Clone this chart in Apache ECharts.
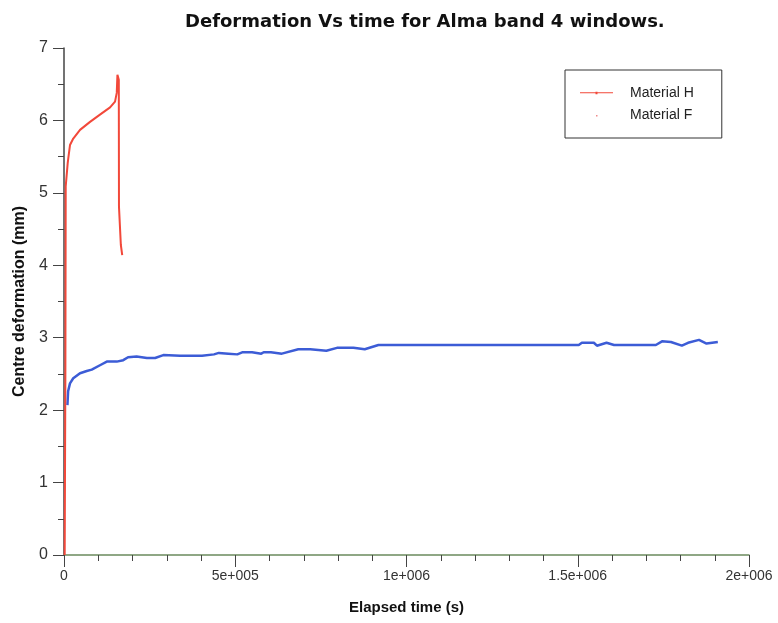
<!DOCTYPE html>
<html>
<head>
<meta charset="utf-8">
<script src="https://cdn.jsdelivr.net/npm/echarts@6/dist/echarts.min.js"></script>
<style>html,body{margin:0;padding:0;background:#fff}#c{width:778px;height:623px}</style>
</head>
<body>
<div id="c"></div>
<script>
// Material H (red) : elapsed time (s), centre deformation (mm)
var hTime = [2000, 4000, 5000, 10800, 12600, 17500, 27000, 46800, 76000, 105000, 134500, 149000, 154000, 156000, 160000, 160500, 164000, 166000, 170000];
var hDef  = [0, 2.5, 5.09, 5.41, 5.48, 5.66, 5.75, 5.87, 5.98, 6.08, 6.18, 6.26, 6.38, 6.63, 6.56, 4.81, 4.79, 4.28, 4.14];

// Blue curve
var fTime = [10000, 12000, 17500, 27000, 46800, 66500, 81000, 105000, 125000, 154000, 173000, 187000, 212000, 242000, 266000, 290000, 339000, 362000, 403000, 438000, 452000, 480000, 506000, 522000, 549000, 576000, 583000, 604000, 636000, 684000, 719000, 766000, 797000, 845000, 878000, 918000, 1503000, 1512000, 1547000, 1556000, 1584000, 1606000, 1728000, 1746000, 1772000, 1804000, 1822000, 1854000, 1876000, 1909000];
var fDef  = [2.07, 2.26, 2.37, 2.44, 2.51, 2.54, 2.56, 2.62, 2.67, 2.67, 2.69, 2.73, 2.74, 2.72, 2.72, 2.76, 2.75, 2.75, 2.75, 2.77, 2.79, 2.78, 2.77, 2.8, 2.8, 2.78, 2.8, 2.8, 2.78, 2.84, 2.84, 2.82, 2.86, 2.86, 2.84, 2.9, 2.9, 2.93, 2.93, 2.89, 2.93, 2.9, 2.9, 2.95, 2.94, 2.89, 2.93, 2.97, 2.92, 2.94];

var xTicks = {0: '0', 500000: '5e+005', 1000000: '1e+006', 1500000: '1.5e+006', 2000000: '2e+006'};
var yTicks = ['0', '1', '2', '3', '4', '5', '6', '7'];

function pairs(a, b) { return a.map(function (v, i) { return [v, b[i]]; }); }

var chart = echarts.init(document.getElementById('c'), null, {renderer: 'canvas'});
var FONT = '"Liberation Sans", Arial, sans-serif';
chart.setOption({
  animation: false,
  backgroundColor: '#fff',
  title: {
    text: 'Deformation Vs time for Alma band 4 windows.',
    left: 180, top: 8,
    textStyle: {fontFamily: '"DejaVu Sans", sans-serif', fontSize: 18, fontWeight: 'bold', color: '#111'}
  },
  grid: {left: 64, right: 29, top: 48, bottom: 68, containLabel: false},
  legend: {
    orient: 'vertical',
    left: 565, top: 70,
    padding: [16, 28, 16, 15],
    itemWidth: 33, itemHeight: 14, itemGap: 8,
    borderColor: '#333', borderWidth: 1,
    textStyle: {fontFamily: FONT, fontSize: 14, color: '#222', padding: [0, 0, 0, 12]},
    data: [
      {name: 'Material H', icon: 'path://M0,6.5h33v1h-33zM15.5,6h2v2.5h-2z'},
      {name: 'Material F', icon: 'path://M0,0M33,14M16,7h1.5v1.5h-1.5z'}
    ]
  },
  xAxis: {
    type: 'value', min: 0, max: 2000000, interval: 500000,
    name: 'Elapsed time (s)', nameLocation: 'middle', nameGap: 45,
    nameTextStyle: {fontFamily: FONT, fontSize: 15, fontWeight: 'bold', color: '#111'},
    axisLine: {show: true, onZero: false, lineStyle: {color: '#6b8a5e', width: 1.5}},
    axisTick: {show: true, inside: false, length: 12, lineStyle: {color: '#444'}},
    minorTick: {show: true, splitNumber: 5, length: 6, lineStyle: {color: '#444'}},
    splitLine: {show: false},
    axisLabel: {fontFamily: FONT, fontSize: 14, color: '#333', margin: 14,
      formatter: function (v) { return xTicks[v] !== undefined ? xTicks[v] : ''; }}
  },
  yAxis: {
    type: 'value', min: 0, max: 7, interval: 1,
    name: 'Centre deformation (mm)', nameLocation: 'middle', nameGap: 36,
    nameTextStyle: {fontFamily: FONT, fontSize: 16, fontWeight: 'bold', color: '#111'},
    axisLine: {show: true, onZero: false, lineStyle: {color: '#444', width: 1.5}},
    axisTick: {show: true, inside: false, length: 11, lineStyle: {color: '#444'}},
    minorTick: {show: true, splitNumber: 2, length: 6, lineStyle: {color: '#444'}},
    splitLine: {show: false},
    axisLabel: {fontFamily: FONT, fontSize: 16, color: '#333', margin: 16,
      formatter: function (v) { return yTicks[v] !== undefined ? yTicks[v] : ''; }}
  },
  series: [
    {
      name: 'Blue', type: 'line', data: pairs(fTime, fDef),
      showSymbol: false, symbol: 'none', z: 2,
      lineStyle: {color: '#3c5cd6', width: 2.5},
      itemStyle: {color: '#3c5cd6'}
    },
    {
      name: 'Material H', type: 'line', data: pairs(hTime, hDef),
      showSymbol: false, symbol: 'none', z: 3,
      lineStyle: {color: '#f2483a', width: 2},
      itemStyle: {color: '#f2483a'}
    },
    {
      name: 'Material F', type: 'line', data: [],
      showSymbol: false,
      lineStyle: {color: '#f08a8a', width: 0},
      itemStyle: {color: '#f08a8a'}
    }
  ]
});
</script>
</body>
</html>
